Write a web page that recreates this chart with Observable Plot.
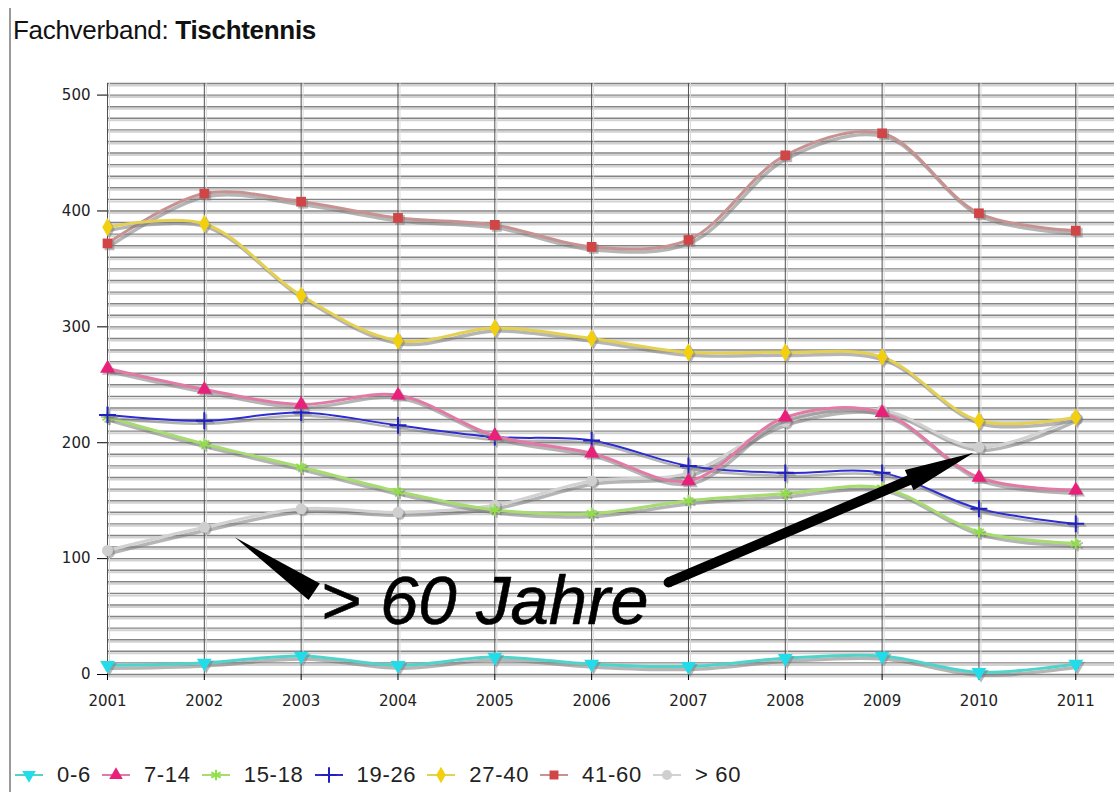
<!DOCTYPE html>
<html><head><meta charset="utf-8">
<script src="https://cdn.jsdelivr.net/npm/d3@7"></script>
<script src="https://cdn.jsdelivr.net/npm/@observablehq/plot@0.6"></script>
<style>
body{margin:0;background:#fff;font-family:"Liberation Sans",Arial,sans-serif;}
#wrap{position:relative;width:1114px;height:792px;overflow:hidden;background:#fff;}
#border{position:absolute;left:9px;top:8px;width:2px;height:784px;background:#9a9a9a;}
#title{position:absolute;left:13px;top:15px;font-size:26px;color:#111;white-space:nowrap;letter-spacing:-0.3px;}
#title b{font-weight:bold;}
#chart{position:absolute;left:0;top:55px;}
#legend{position:absolute;left:15px;top:762px;display:flex;align-items:center;font-size:22px;color:#222;white-space:nowrap;letter-spacing:0.7px;}
#legend .item{display:flex;align-items:center;margin-right:11px;}
#legend svg{margin-right:14px;}
</style></head>
<body>
<div id="wrap">
  <div id="border"></div>
  <div id="title">Fachverband: <b>Tischtennis</b></div>
  <div id="chart"></div>
  <div id="legend"></div>
</div>
<script>
// ---- data ----
const years = [2001, 2002, 2003, 2004, 2005, 2006, 2007, 2008, 2009, 2010, 2011];
const seriesNames = ["0-6", "7-14", "15-18", "19-26", "27-40", "41-60", "> 60"];
const v0_6   = [8, 10, 16, 8, 15, 9, 7, 14, 16, 2, 9];
const v7_14  = [264, 246, 233, 241, 206, 191, 167, 222, 226, 170, 159];
const v15_18 = [222, 199, 179, 158, 142, 139, 150, 156, 161, 123, 113];
const v19_26 = [224, 219, 226, 215, 205, 202, 180, 174, 174, 143, 130];
const v27_40 = [386, 389, 327, 288, 299, 290, 278, 278, 274, 219, 222];
const v41_60 = [372, 415, 408, 394, 388, 369, 375, 448, 467, 398, 383];
const v60plus = [107, 127, 143, 140, 146, 167, 174, 218, 228, 196, 222];
const yTicks = [0, 100, 200, 300, 400, 500];

// annotation
const annoText = "> 60 Jahre";
const annoTextPos = [2003.2, 63];
const wedgeTip = [2002.32, 118];
const wedgeBase = [2003.14, 71];
const arrowTail = [2006.80, 79];
const arrowTip = [2009.95, 191];

// ---- styles ----
const markColors = ["#22dcea", "#e8207a", "#90e048", "#2020c0", "#f2d010", "#d04646", "#cfcfcf"];
const lineColors = ["#4fd4cc", "#e27aa6", "#a6dc70", "#2c2cd0", "#e4d052", "#c69292", "#d2d2d2"];
const symbols = ["triangle", "triangle", "asterisk", "plus", "diamond", "square", "circle"];
const rotations = [180, 0, 0, 0, 0, 0, 0];
const strokeSyms = [false, false, true, true, false, false, false];
const lineWidths = [3, 3, 3, 2, 3, 3, 3];
const drawOrder = [6, 5, 4, 2, 3, 1, 0];

const allValues = [v0_6, v7_14, v15_18, v19_26, v27_40, v41_60, v60plus];
const gridVals = d3.range(0, 511, 10);
const tickFont = "DejaVu Sans, Verdana, sans-serif";

const marks = [];
// horizontal grid
marks.push(Plot.ruleY(gridVals, {stroke: "#d2d2d2", strokeWidth: 2, dy: 2}));
marks.push(Plot.ruleY(gridVals, {stroke: "#858585", strokeWidth: 1.4}));
// vertical grid
marks.push(Plot.ruleX(years, {stroke: "#dadada", strokeWidth: 1, dx: 2}));
marks.push(Plot.ruleX(years, {stroke: "#505050", strokeWidth: 1}));
// axes
marks.push(Plot.axisY(yTicks, {tickSize: 10, tickPadding: 7, fontSize: 15, fontFamily: tickFont, fill: "#222", label: null}));
marks.push(Plot.axisX(years, {tickSize: 6, tickPadding: 15, fontSize: 15, fontFamily: tickFont, fill: "#222", tickFormat: d => String(d), label: null}));

for (const i of drawOrder) {
  const rows = years.map((yr, k) => ({year: yr, value: allValues[i][k]}));
  marks.push(Plot.line(rows, {x: "year", y: "value", curve: "catmull-rom", stroke: "#7a7a7a", strokeOpacity: 0.55, strokeWidth: lineWidths[i] + 0.5, dx: 2, dy: 3}));
  marks.push(Plot.line(rows, {x: "year", y: "value", curve: "catmull-rom", stroke: lineColors[i], strokeWidth: lineWidths[i]}));
  const sym = {x: "year", y: "value", symbol: symbols[i], r: 5.5, rotate: rotations[i]};
  if (strokeSyms[i]) {
    marks.push(Plot.dot(rows, {...sym, stroke: "#777", strokeOpacity: 0.5, strokeWidth: 2, dx: 2, dy: 2}));
    marks.push(Plot.dot(rows, {...sym, stroke: markColors[i], strokeWidth: 2}));
  } else {
    marks.push(Plot.dot(rows, {...sym, fill: "#777", fillOpacity: 0.5, dx: 2, dy: 2}));
    marks.push(Plot.dot(rows, {...sym, fill: markColors[i]}));
  }
}

// annotation text
marks.push(Plot.text([annoText], {x: () => annoTextPos[0], y: () => annoTextPos[1], text: d => d, textAnchor: "start", fontSize: 69, fontStyle: "italic", fontFamily: "Liberation Sans, Arial, sans-serif", fill: "#000", stroke: "#000", strokeWidth: 0.6}));

// annotation wedge + arrow (computed through the plot's scales)
marks.push((index, scales) => {
  const X = scales.x, Y = scales.y;
  const g = d3.create("svg:g");
  const P = [X(wedgeTip[0]), Y(wedgeTip[1])];
  const C = [X(wedgeBase[0]), Y(wedgeBase[1])];
  let ux = C[0] - P[0], uy = C[1] - P[1];
  let L = Math.hypot(ux, uy); ux /= L; uy /= L;
  let nx = -uy, ny = ux; const hw = 10;
  g.append("path").attr("fill", "#000")
    .attr("d", `M${P[0]},${P[1]}L${C[0] + nx * hw},${C[1] + ny * hw}L${C[0] - nx * hw},${C[1] - ny * hw}Z`);
  const T = [X(arrowTail[0]), Y(arrowTail[1])];
  const H = [X(arrowTip[0]), Y(arrowTip[1])];
  ux = H[0] - T[0]; uy = H[1] - T[1];
  L = Math.hypot(ux, uy); ux /= L; uy /= L;
  nx = -uy; ny = ux;
  const s = 5, h = 11, hl = 70;
  const B = [H[0] - ux * hl, H[1] - uy * hl];
  const pts = [
    [T[0] + nx * s, T[1] + ny * s], [B[0] + nx * s, B[1] + ny * s], [B[0] + nx * h, B[1] + ny * h],
    H, [B[0] - nx * h, B[1] - ny * h], [B[0] - nx * s, B[1] - ny * s], [T[0] - nx * s, T[1] - ny * s]
  ];
  g.append("path").attr("fill", "#000").attr("d", "M" + pts.map(p => p.join(",")).join("L") + "Z");
  g.append("circle").attr("cx", T[0]).attr("cy", T[1]).attr("r", s).attr("fill", "#000");
  return g.node();
});

const chart = Plot.plot({
  width: 1114,
  height: 670,
  marginLeft: 107,
  marginRight: 0,
  marginTop: 28,
  marginBottom: 51,
  style: {background: "transparent", overflow: "visible"},
  x: {domain: [2001, 2011.4]},
  y: {domain: [0, 510]},
  marks
});
document.getElementById("chart").appendChild(chart);

// legend
const legend = d3.select("#legend");
const symMap = {triangle: d3.symbolTriangle, asterisk: d3.symbolAsterisk, plus: d3.symbolPlus, diamond: d3.symbolDiamond, square: d3.symbolSquare, circle: d3.symbolCircle};
seriesNames.forEach((name, i) => {
  const item = legend.append("div").attr("class", "item");
  const s = item.append("svg").attr("width", 28).attr("height", 20);
  s.append("line").attr("x1", 0).attr("x2", 28).attr("y1", 10).attr("y2", 10).attr("stroke", lineColors[i]).attr("stroke-width", 2);
  const p = s.append("path").attr("d", d3.symbol(symMap[symbols[i]], 80)()).attr("transform", `translate(14,10) rotate(${rotations[i]})`);
  if (strokeSyms[i]) p.attr("fill", "none").attr("stroke", markColors[i]).attr("stroke-width", 2);
  else p.attr("fill", markColors[i]);
  item.append("span").text(name);
});
</script>
</body></html>
